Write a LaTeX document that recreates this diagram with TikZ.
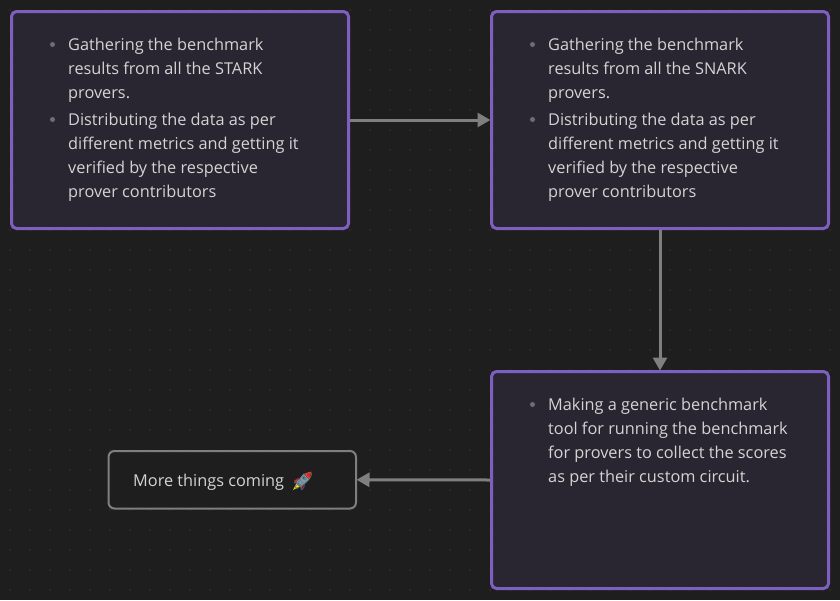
\documentclass[tikz,border=0pt]{standalone}
\usepackage{fontspec}
\setmainfont{Open Sans}
\newfontfamily\emojifont{Noto Emoji}
\definecolor{bgc}{HTML}{1E1E1E}
\definecolor{dotc}{HTML}{2D2D2D}
\definecolor{boxc}{HTML}{2A2631}
\definecolor{purplec}{HTML}{7E5FC0}
\definecolor{greyc}{HTML}{7F7F7F}
\definecolor{textc}{HTML}{D4D4D4}
\definecolor{bulletc}{HTML}{6E6E6E}
\definecolor{rocketc}{HTML}{5F7F90}
\usetikzlibrary{arrows.meta}
\tikzset{
  x=1pt,y=-1pt,
  purplebox/.style={draw=purplec,line width=3pt,fill=boxc,rounded corners=5pt,minimum width=337pt,minimum height=217pt,anchor=north west,inner sep=0pt,outer sep=0pt},
  plainbox/.style={draw=greyc,line width=2pt,fill=bgc,rounded corners=6pt,anchor=north west,inner sep=0pt,outer sep=0pt,minimum width=247.5pt,minimum height=57.5pt},
  txt/.style={anchor=base west,text=textc,inner sep=0pt,font=\fontsize{16.3}{24}\selectfont},
  bul/.style={circle,fill=bulletc,inner sep=0pt,minimum size=5pt},
  conn/.style={draw=greyc,line width=3pt,shorten <=1.5pt,-{Triangle[length=13pt,width=14pt,fill=greyc]}},
}
\begin{document}
\begin{tikzpicture}
\useasboundingbox (0,0) rectangle (840,600);
\fill[bgc] (0,0) rectangle (840,600);
\foreach \i in {0,...,41}{\foreach \j in {0,...,29}{\fill[dotc] (10+20*\i,10+20*\j) circle (1pt);}}

\node[purplebox] (a) at (11.5,11.5) {};
\node[purplebox] (b) at (491.5,11.5) {};
\node[purplebox] (c) at (491.5,371.5) {};
\node[plainbox] (d) at (108.5,451) {};

\draw[conn,shorten >=1pt] (a.east) -- (b.west);
\draw[conn,shorten >=1pt] (b.south) -- (c.north);
\draw[conn,shorten >=0.5pt] (c.west) -- (d.east);

\node[bul] (b1) at (52.5,44.5) {};
\node[txt] (t1) at (68,50) {Gathering the benchmark};
\node[txt] (t2) at (68,74) {results from all the STARK};
\node[txt] (t3) at (68,98) {provers.};
\node[bul] (b2) at (52.5,119.5) {};
\node[txt] (t4) at (68,125) {Distributing the data as per};
\node[txt] (t5) at (68,149) {different metrics and getting it};
\node[txt] (t6) at (68,173) {verified by the respective};
\node[txt] (t7) at (68,197) {prover contributors};

\node[bul] (b3) at (532.5,44.5) {};
\node[txt] (u1) at (548,50) {Gathering the benchmark};
\node[txt] (u2) at (548,74) {results from all the SNARK};
\node[txt] (u3) at (548,98) {provers.};
\node[bul] (b4) at (532.5,119.5) {};
\node[txt] (u4) at (548,125) {Distributing the data as per};
\node[txt] (u5) at (548,149) {different metrics and getting it};
\node[txt] (u6) at (548,173) {verified by the respective};
\node[txt] (u7) at (548,197) {prover contributors};

\node[bul] (b5) at (532.5,404.5) {};
\node[txt] (v1) at (548,410) {Making a generic benchmark};
\node[txt] (v2) at (548,434) {tool for running the benchmark};
\node[txt] (v3) at (548,458) {for provers to collect the scores};
\node[txt] (v4) at (548,482) {as per their custom circuit.};

\node[txt] (w) at (133,486) {More things coming};
% rocket colours under the emoji glyph
\fill[red!75!black!90] (299,477.5) -- (294,480.5) -- (297,484) -- cycle;
\fill[red!75!black!90] (304.5,483) -- (302,488.5) -- (298.5,486) -- cycle;
\fill[yellow!85!orange] (296.5,483.5) -- (299.5,486.5) -- (293,490) -- cycle;
\fill[rocketc!80!white] (303.7,473.7) -- (309.3,479.3) -- (300.6,486.6) -- (296.4,482.4) -- cycle;
\fill[red!80!orange] (311.5,471.5) -- (303.7,473.7) -- (309.3,479.3) -- cycle;
\fill[rocketc!60!black] (304,478) circle (1.6pt);
\node[txt,text=rocketc,font=\emojifont\fontsize{18}{20}\selectfont] (r) at (291.5,487) {🚀};
\end{tikzpicture}
\end{document}
